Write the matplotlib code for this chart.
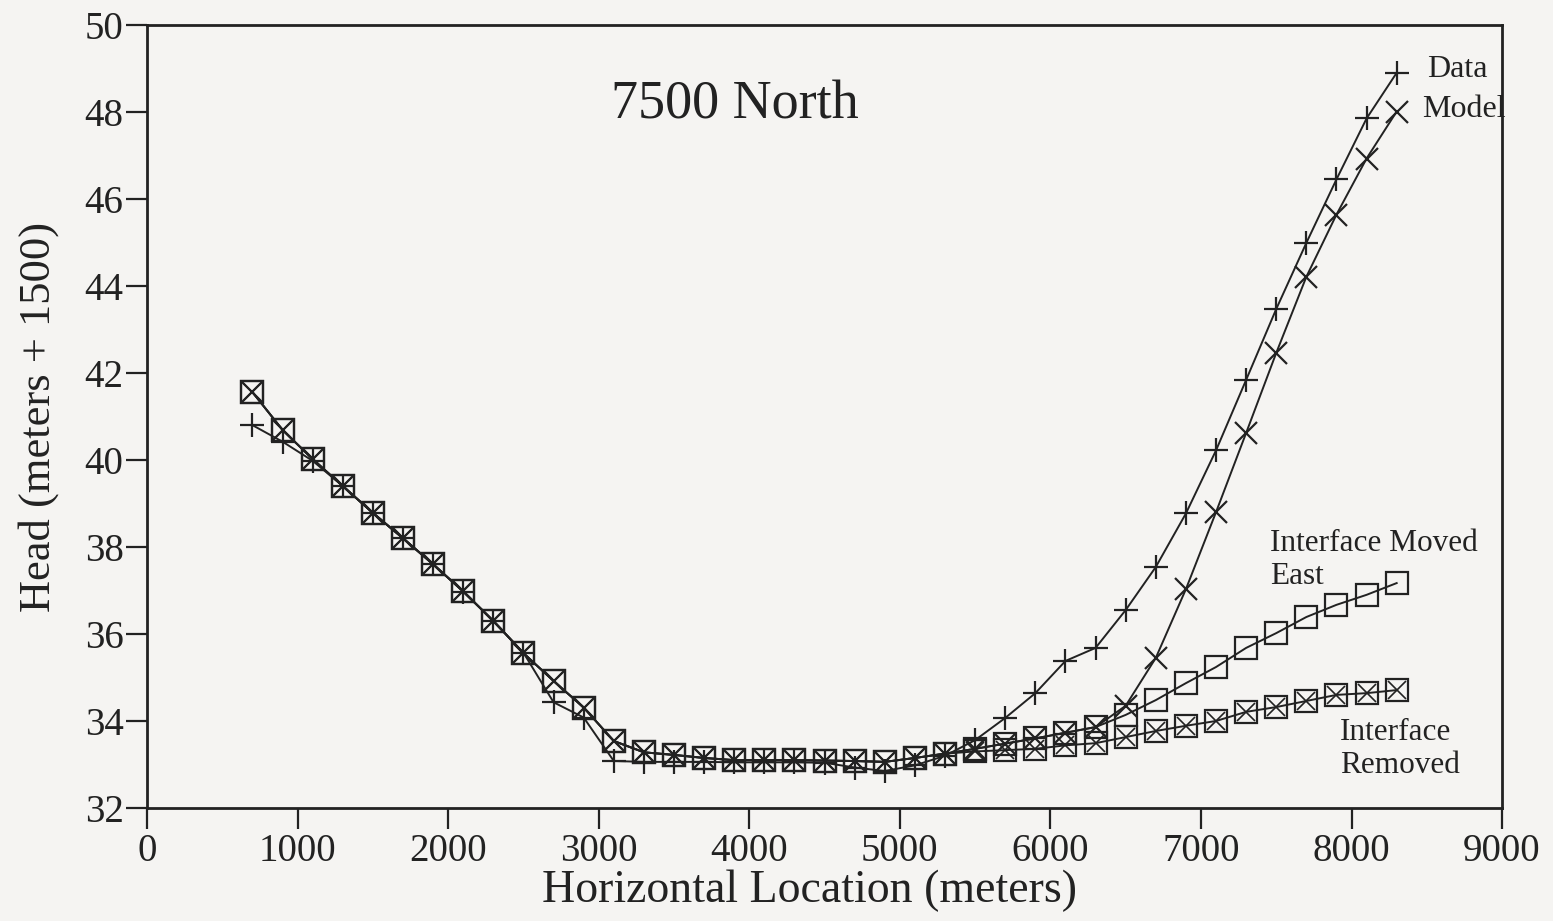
import numpy as np
import matplotlib
matplotlib.use("Agg")
import matplotlib.pyplot as plt

plt.rcParams['font.family'] = ['Liberation Serif', 'DejaVu Serif']

# Posiciones horizontales (m)
distancia = [700, 900, 1100, 1300, 1500, 1700, 1900, 2100, 2300, 2500,
             2700, 2900, 3100, 3300, 3500, 3700, 3900, 4100, 4300, 4500,
             4700, 4900, 5100, 5300, 5500, 5700, 5900, 6100, 6300, 6500,
             6700, 6900, 7100, 7300, 7500, 7700, 7900, 8100, 8300]

# Carga hidraulica (m + 1500)
head_data = [40.80, 40.42, 39.98, 39.40, 38.79, 38.20, 37.61, 36.97, 36.30, 35.57,
             34.43, 34.08, 33.08, 33.06, 33.06, 33.06, 33.05, 33.05, 33.05, 33.04,
             32.93, 32.85, 32.98, 33.20, 33.56, 34.07, 34.64, 35.38, 35.68, 36.55,
             37.54, 38.77, 40.22, 41.84, 43.47, 44.99, 46.45, 47.85, 48.90]

head_model = [41.56, 40.69, 40.02, 39.40, 38.78, 38.20, 37.60, 36.98, 36.30, 35.56,
              34.92, 34.31, 33.54, 33.28, 33.22, 33.15, 33.10, 33.10, 33.10, 33.09,
              33.08, 33.06, 33.15, 33.25, 33.36, 33.48, 33.60, 33.73, 33.86, 34.35,
              35.45, 37.03, 38.80, 40.62, 42.46, 44.21, 45.64, 46.93, 48.01]

head_moved_east = [41.56, 40.69, 40.02, 39.40, 38.78, 38.20, 37.60, 36.98, 36.30, 35.56,
                   34.92, 34.31, 33.54, 33.28, 33.22, 33.15, 33.10, 33.10, 33.10, 33.09,
                   33.08, 33.06, 33.15, 33.25, 33.36, 33.48, 33.60, 33.73, 33.86, 34.14,
                   34.48, 34.87, 35.24, 35.68, 36.02, 36.39, 36.67, 36.90, 37.17]

head_removed = [41.56, 40.69, 40.02, 39.40, 38.78, 38.20, 37.60, 36.98, 36.30, 35.56,
                34.92, 34.31, 33.54, 33.28, 33.22, 33.15, 33.10, 33.10, 33.10, 33.09,
                33.08, 33.06, 33.15, 33.25, 33.30, 33.33, 33.36, 33.44, 33.49, 33.63,
                33.77, 33.89, 34.00, 34.21, 34.32, 34.46, 34.60, 34.64, 34.71]

xticks = [0, 1000, 2000, 3000, 4000, 5000, 6000, 7000, 8000, 9000]
yticks = [32, 34, 36, 38, 40, 42, 44, 46, 48, 50]

color = '#222222'
fondo = '#f5f4f2'
lw = 1.4
mew = 1.6

fig = plt.figure(figsize=(15.53, 9.21), dpi=100, facecolor=fondo)
ax = fig.add_axes([0.0947, 0.1227, 0.8725, 0.8502], facecolor=fondo)

# Interface Removed: cuadro con x adentro
ax.plot(distancia, head_removed, color=color, lw=lw, marker='s', ms=15.5,
        mfc='none', mec=color, mew=mew)
ax.plot(distancia, head_removed, ls='none', marker='x', ms=13, mec=color, mew=1.2)

# Interface Moved East: cuadro abierto
ax.plot(distancia, head_moved_east, color=color, lw=lw, marker='s', ms=15.5,
        mfc='none', mec=color, mew=mew)

# Model
ax.plot(distancia, head_model, color=color, lw=lw, marker='x', ms=16,
        mec=color, mew=mew)

# Data
ax.plot(distancia, head_data, color=color, lw=lw, marker='+', ms=17,
        mec=color, mew=mew)

ax.set_xlim(0, 9000)
ax.set_ylim(32, 50)
ax.set_xticks(xticks)
ax.set_yticks(yticks)
ax.tick_params(direction='out', length=15, width=1.6, color=color,
               labelsize=28, labelcolor=color)
ax.tick_params(axis='x', pad=3)
ax.tick_params(axis='y', pad=2)
for s in ax.spines.values():
    s.set_linewidth(2)
    s.set_color(color)

ax.set_xlabel('Horizontal Location (meters)', fontsize=33, color=color)
ax.xaxis.set_label_coords(0.489, -0.079)
ax.set_ylabel('Head (meters + 1500)', fontsize=32, color=color, labelpad=18)

ax.text(0.434, 0.897, '7500 North', transform=ax.transAxes, fontsize=39,
        color=color, ha='center', va='center')

ax.text(8500, 48.97, 'Data', fontsize=23, color=color, ha='left', va='center')
ax.text(8470, 48.05, 'Model', fontsize=23, color=color, ha='left', va='center')
ax.text(7457, 37.70, 'Interface Moved\nEast', fontsize=22.5, color=color,
        ha='left', va='center', linespacing=1.2)
ax.text(7922, 33.36, 'Interface\nRemoved', fontsize=22.5, color=color,
        ha='left', va='center', linespacing=1.2)

fig.savefig('out.png', dpi=100, facecolor=fondo)
